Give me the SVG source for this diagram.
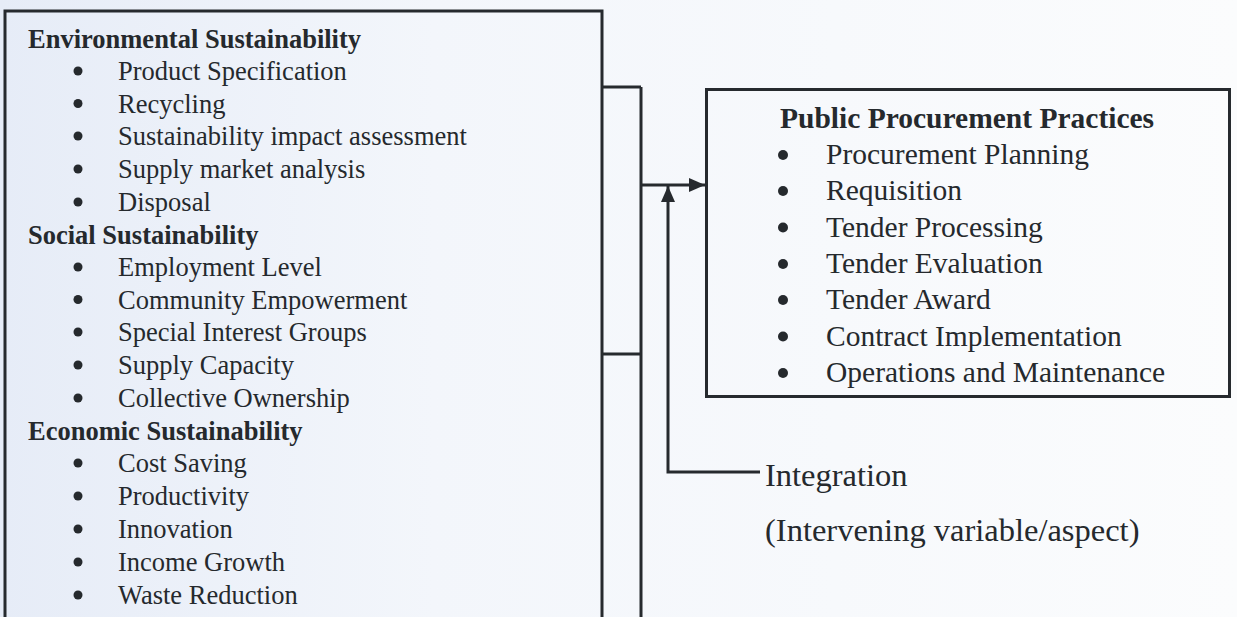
<svg xmlns="http://www.w3.org/2000/svg" width="1237" height="617" viewBox="0 0 1237 617">
  <defs>
    <linearGradient id="paper" x1="0" y1="0" x2="1" y2="0">
      <stop offset="0" stop-color="#e6ecf7"/>
      <stop offset="0.35" stop-color="#f3f6fb"/>
      <stop offset="1" stop-color="#fbfcfd"/>
    </linearGradient>
    <marker id="head" viewBox="0 0 16 14" refX="16" refY="7" markerWidth="16" markerHeight="14" markerUnits="userSpaceOnUse" orient="auto">
      <path d="M0,0 L16,7 L0,14 z" fill="#262a2e"/>
    </marker>
    <style>
      .box { fill: none; stroke: #262a2e; stroke-width: 3; }
      .wire { fill: none; stroke: #262a2e; stroke-width: 3; }
      .txt { font-family: "Liberation Serif", "Times New Roman", serif; fill: #25292d; }
      .left { font-size: 26.5px; }
      .right { font-size: 29.5px; }
      .head { font-weight: bold; }
      .note { font-size: 32.5px; }
      .dot { fill: #25292d; }
    </style>
  </defs>

  <rect x="0" y="0" width="1237" height="617" fill="url(#paper)"/>

  <!-- sustainability dimensions -->
  <g id="sustainability">
    <path class="box" d="M5,630 L5,11 L602,11 L602,630"/>
    <g class="txt left">
      <text class="head" x="28" y="48">Environmental Sustainability</text>
      <circle class="dot" cx="78" cy="71" r="4.5"/><text x="118" y="80">Product Specification</text>
      <circle class="dot" cx="78" cy="103.5" r="4.5"/><text x="118" y="112.5">Recycling</text>
      <circle class="dot" cx="78" cy="136" r="4.5"/><text x="118" y="145">Sustainability impact assessment</text>
      <circle class="dot" cx="78" cy="169" r="4.5"/><text x="118" y="178">Supply market analysis</text>
      <circle class="dot" cx="78" cy="202" r="4.5"/><text x="118" y="211">Disposal</text>
      <text class="head" x="28" y="243.5">Social Sustainability</text>
      <circle class="dot" cx="78" cy="267" r="4.5"/><text x="118" y="276">Employment Level</text>
      <circle class="dot" cx="78" cy="299.5" r="4.5"/><text x="118" y="308.5">Community Empowerment</text>
      <circle class="dot" cx="78" cy="332" r="4.5"/><text x="118" y="341">Special Interest Groups</text>
      <circle class="dot" cx="78" cy="365" r="4.5"/><text x="118" y="374">Supply Capacity</text>
      <circle class="dot" cx="78" cy="398" r="4.5"/><text x="118" y="407">Collective Ownership</text>
      <text class="head" x="28" y="440">Economic Sustainability</text>
      <circle class="dot" cx="78" cy="463" r="4.5"/><text x="118" y="472">Cost Saving</text>
      <circle class="dot" cx="78" cy="496" r="4.5"/><text x="118" y="505">Productivity</text>
      <circle class="dot" cx="78" cy="529" r="4.5"/><text x="118" y="538">Innovation</text>
      <circle class="dot" cx="78" cy="562" r="4.5"/><text x="118" y="571">Income Growth</text>
      <circle class="dot" cx="78" cy="595" r="4.5"/><text x="118" y="604">Waste Reduction</text>
    </g>
  </g>

  <!-- procurement practices -->
  <g id="procurement">
    <rect class="box" x="706.5" y="89.5" width="523" height="307"/>
    <g class="txt right">
      <text class="head" x="780" y="128">Public Procurement Practices</text>
      <circle class="dot" cx="783" cy="155" r="5"/><text x="826" y="164">Procurement Planning</text>
      <circle class="dot" cx="783" cy="191" r="5"/><text x="826" y="200">Requisition</text>
      <circle class="dot" cx="783" cy="227.5" r="5"/><text x="826" y="236.5">Tender Processing</text>
      <circle class="dot" cx="783" cy="264" r="5"/><text x="826" y="273">Tender Evaluation</text>
      <circle class="dot" cx="783" cy="300" r="5"/><text x="826" y="309">Tender Award</text>
      <circle class="dot" cx="783" cy="336.5" r="5"/><text x="826" y="345.5">Contract Implementation</text>
      <circle class="dot" cx="783" cy="373" r="5"/><text x="826" y="382">Operations and Maintenance</text>
    </g>
  </g>

  <!-- intervening variable -->
  <g id="integration" class="txt note">
    <text x="765" y="486">Integration</text>
    <text x="765" y="541">(Intervening variable/aspect)</text>
  </g>

  <!-- connectors -->
  <g id="connectors">
    <path class="wire" d="M602,87 L641,87 M602,354 L641,354 M641,87 L641,630"/>
    <path class="wire" d="M641,185 L705,185" marker-end="url(#head)"/>
    <path class="wire" d="M760,472 L668,472 L668,186" marker-end="url(#head)"/>
  </g>
</svg>
